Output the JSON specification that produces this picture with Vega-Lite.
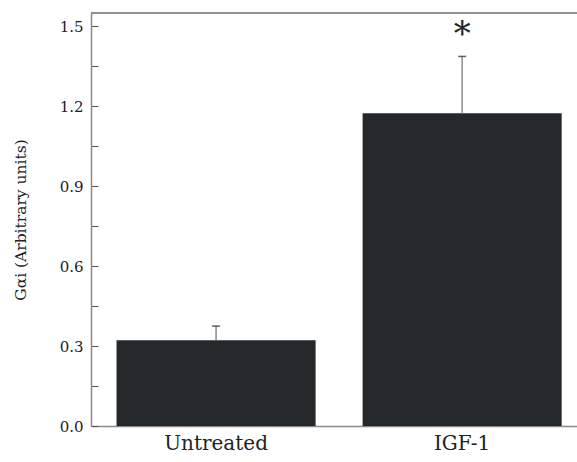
{
  "$schema": "https://vega.github.io/schema/vega-lite/v6.json",
  "width": 486,
  "height": 413,
  "autosize": {"type": "none"},
  "padding": {"left": 91, "top": 13, "right": 0, "bottom": 36},
  "background": "white",
  "config": {
    "view": {"stroke": null},
    "font": "DejaVu Serif"
  },
  "data": {
    "values": [
      {"group": "Untreated", "value": 0.322, "upper": 0.375, "sig": ""},
      {"group": "IGF-1", "value": 1.174, "upper": 1.387, "sig": "*"}
    ]
  },
  "encoding": {
    "x": {
      "field": "group",
      "type": "nominal",
      "sort": ["Untreated", "IGF-1"],
      "scale": {"paddingInner": 0.191, "paddingOuter": 0.083, "align": 0.625},
      "axis": {
        "title": null,
        "labelAngle": 0,
        "labelFontSize": 20,
        "labelFont": "DejaVu Serif",
        "labelColor": "#222222",
        "labelPadding": 7,
        "ticks": false,
        "domainColor": "#8a8a8a",
        "domainWidth": 1.5
      }
    }
  },
  "layer": [
    {
      "mark": {"type": "bar", "color": "#24282b"},
      "encoding": {
        "y": {
          "field": "value",
          "type": "quantitative",
          "scale": {"domain": [0, 1.55], "nice": false, "zero": true},
          "axis": {
            "title": "Gαi (Arbitrary units)",
            "titleFont": "DejaVu Serif",
            "titleFontSize": 15.5,
            "titleFontWeight": "normal",
            "titleColor": "#222222",
            "titlePadding": 31,
            "values": [0, 0.15, 0.3, 0.45, 0.6, 0.75, 0.9, 1.05, 1.2, 1.35, 1.5],
            "labelExpr": "round(datum.value * 100) % 30 == 0 ? format(datum.value, '.1f') : ''",
            "labelFont": "DejaVu Serif",
            "labelFontSize": 15,
            "labelColor": "#222222",
            "labelPadding": 15,
            "tickSize": -7,
            "tickColor": "#555555",
            "tickWidth": 1,
            "grid": false,
            "domainColor": "#8a8a8a",
            "domainWidth": 1.5
          }
        }
      }
    },
    {
      "mark": {"type": "rule", "color": "#8a8a8a", "strokeWidth": 1.5},
      "encoding": {
        "y": {"field": "value", "type": "quantitative"},
        "y2": {"field": "upper"}
      }
    },
    {
      "mark": {"type": "tick", "orient": "horizontal", "color": "#222222", "size": 8, "thickness": 1.5},
      "encoding": {
        "y": {"field": "upper", "type": "quantitative"}
      }
    },
    {
      "mark": {"type": "text", "fontSize": 34, "font": "DejaVu Serif", "color": "#222222", "baseline": "middle", "dy": -21},
      "encoding": {
        "y": {"field": "upper", "type": "quantitative"},
        "text": {"field": "sig"}
      }
    },
    {
      "mark": {"type": "rule", "color": "#8a8a8a", "strokeWidth": 1.5},
      "encoding": {
        "y": {"datum": 1.55, "type": "quantitative"},
        "x": {"value": 0},
        "x2": {"value": 486}
      }
    }
  ]
}
